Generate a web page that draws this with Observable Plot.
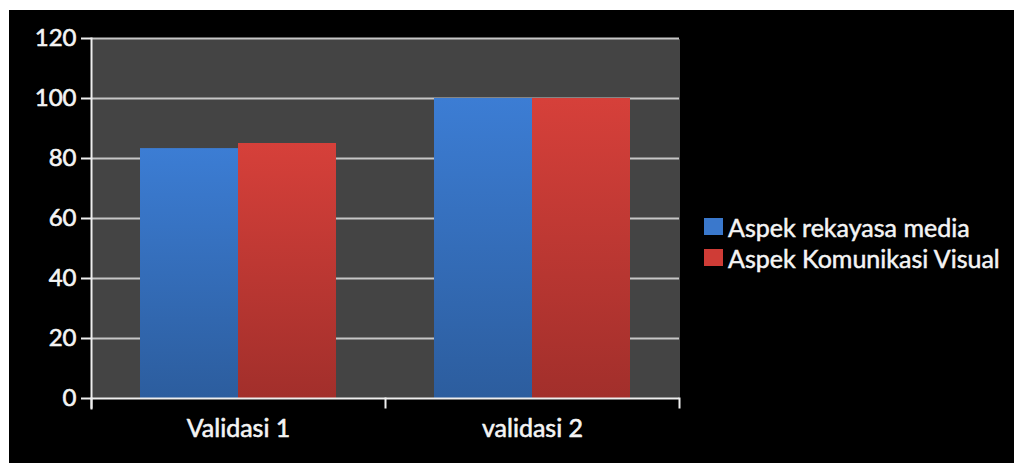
<!DOCTYPE html>
<html><head><meta charset="utf-8">
<script src="https://cdn.jsdelivr.net/npm/d3@7"></script>
<script src="https://cdn.jsdelivr.net/npm/@observablehq/plot@0.6"></script>
<style>
html,body{margin:0;padding:0;background:#fff;width:1014px;height:463px;overflow:hidden}
#wrap{position:absolute;left:9px;top:10px;width:1005px;height:453px;background:#000;font-family:Lato,sans-serif;color:#f4f4f4}
#chart{position:absolute;left:0;top:0}
#legend{position:absolute;left:695px;top:201px;font-size:25px;-webkit-text-stroke:0.5px #f4f4f4}
.item{display:flex;align-items:center;height:31px;white-space:nowrap}
.sw{width:19px;height:17px;margin-right:5px}
</style></head><body>
<svg width="0" height="0" style="position:absolute">
<defs>
<linearGradient id="gBlue" x1="0" y1="0" x2="0" y2="1"><stop offset="0" stop-color="#3c7dd4"/><stop offset="1" stop-color="#2c5d9e"/></linearGradient>
<linearGradient id="gRed" x1="0" y1="0" x2="0" y2="1"><stop offset="0" stop-color="#d6403a"/><stop offset="1" stop-color="#a22f2b"/></linearGradient>
</defs></svg>
<div id="wrap"><div id="chart"></div><div id="legend"></div></div>
<script>
const categories = ["Validasi 1", "validasi 2"];
const seriesNames = ["Aspek rekayasa media", "Aspek Komunikasi Visual"];
const rekayasaValues = [83.3, 100];
const komunikasiValues = [85, 100];
const yTicks = [0, 20, 40, 60, 80, 100, 120];
const seriesColors = ["#3a78cc", "#cf3c36"];
const seriesFills = ["url(#gBlue)", "url(#gRed)"];

const rows = categories.flatMap((c, i) => [
  {category: c, series: seriesNames[0], value: rekayasaValues[i]},
  {category: c, series: seriesNames[1], value: komunikasiValues[i]}
]);

const axisColor = "#eeeeee";
const textColor = "#f4f4f4";
const chart = Plot.plot({
  width: 1005, height: 453,
  marginLeft: 82, marginTop: 28, marginRight: 335, marginBottom: 65,
  style: {background: "transparent", color: textColor, fontFamily: "Lato, sans-serif"},
  fx: {domain: categories, padding: 0, label: null, axis: null},
  x: {domain: seriesNames, paddingInner: 0, paddingOuter: 0.5, axis: null},
  y: {domain: [0, 120], axis: null, label: null},
  color: {domain: seriesNames, range: seriesFills},
  marks: [
    Plot.frame({fill: "#444444", shapeRendering: "crispEdges"}),
    Plot.gridY(yTicks.slice(1), {stroke: "#c6c6c6", strokeOpacity: 1, strokeWidth: 2}),
    Plot.barY(rows, {fx: "category", x: "series", y: "value", fill: "series"}),
    Plot.ruleY([0], {stroke: axisColor, strokeWidth: 2}),
    Plot.frame({anchor: "left", facetAnchor: "left", stroke: axisColor, strokeWidth: 2, insetBottom: -10}),
    Plot.frame({anchor: "left", stroke: axisColor, strokeWidth: 2, insetTop: 360, insetBottom: -9}),
    Plot.frame({anchor: "right", facetAnchor: "right", stroke: axisColor, strokeWidth: 2, insetTop: 360, insetBottom: -9}),
    Plot.axisY(yTicks, {tickSize: 10, tickPadding: 5, fontSize: 24, label: null, stroke: axisColor, strokeWidth: 2, strokeOpacity: 1, textStroke: textColor, textStrokeWidth: 0.6}),
    Plot.axisFx({anchor: "bottom", tickSize: 0, tickPadding: 21, fontSize: 25, label: null, textStroke: textColor, textStrokeWidth: 0.6})
  ]
});
document.getElementById("chart").appendChild(chart);

const legend = document.getElementById("legend");
seriesNames.forEach((name, i) => {
  const item = document.createElement("div");
  item.className = "item";
  const sw = document.createElement("span");
  sw.className = "sw";
  sw.style.background = seriesColors[i];
  const label = document.createElement("span");
  label.textContent = name;
  item.appendChild(sw);
  item.appendChild(label);
  legend.appendChild(item);
});
</script>
</body></html>
